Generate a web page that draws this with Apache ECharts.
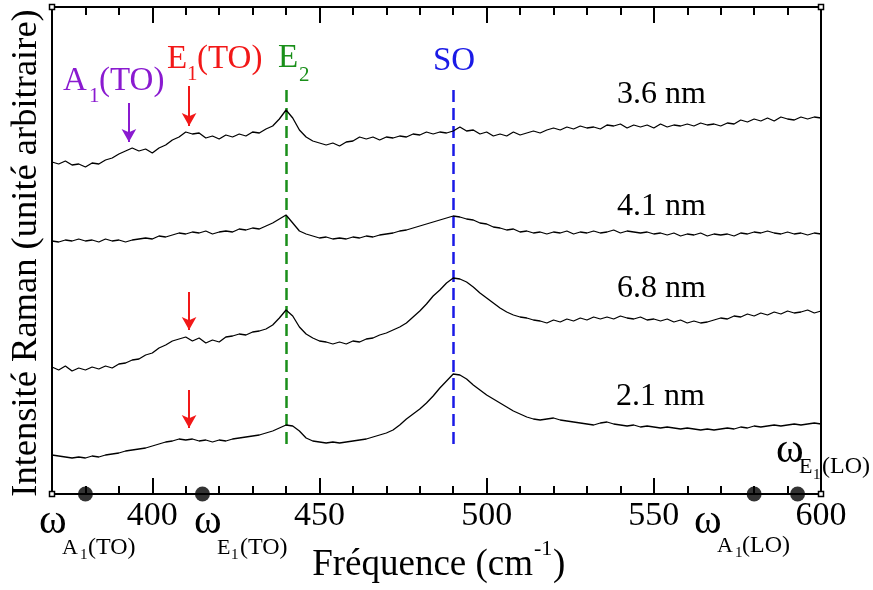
<!DOCTYPE html>
<html><head><meta charset="utf-8">
<script src="https://cdn.jsdelivr.net/npm/echarts@6/dist/echarts.min.js"></script>
<style>html,body{margin:0;padding:0;background:#fff}#c{width:873px;height:590px}</style>
</head><body><div id="c"></div>
<script>
// Raman shift (cm-1)
const freq = [
370,372,374,376,378,380,382,384,386,388,
390,392,394,396,398,400,402,404,406,408,
410,412,414,416,418,420,422,424,426,428,
430,432,434,436,438,440,442,444,446,448,
450,452,454,456,458,460,462,464,466,468,
470,472,474,476,478,480,482,484,486,488,
490,492,494,496,498,500,502,504,506,508,
510,512,514,516,518,520,522,524,526,528,
530,532,534,536,538,540,542,544,546,548,
550,552,554,556,558,560,562,564,566,568,
570,572,574,576,578,580,582,584,586,588,
590,592,594,596,598,600];
// intensities (arbitrary units, offset stacked)
const s36 = [
332,330,333,329,330,327,331,330,334,336,
340,343,346,343,345,341,346,349,354,357,
362,360,361,356,358,355,359,357,360,358,
362,361,365,368,375,384,376,364,357,353,
351,349,351,348,352,353,357,355,357,354,
357,356,358,357,360,359,362,360,362,361,
363,367,363,364,360,362,358,360,358,362,
359,361,363,361,364,366,364,367,365,368,
366,367,365,369,368,370,366,369,367,369,
366,370,367,369,368,370,368,371,369,370,
368,371,370,374,372,375,373,376,373,377,
375,374,377,375,377,376];
const s41 = [
253,252,254,253,255,253,254,252,255,253,
254,252,254,255,256,255,258,257,259,261,
260,262,261,263,260,262,263,262,265,264,
266,265,268,271,275,279,271,263,260,258,
256,257,255,256,255,257,256,258,257,259,
260,261,263,264,266,268,270,272,274,276,
278,277,275,274,271,270,267,266,264,265,
262,263,261,262,260,262,261,263,260,262,
261,263,261,262,264,261,263,262,261,262,
260,261,259,261,258,260,259,261,258,260,
259,260,258,261,260,262,261,263,261,260,
262,260,261,259,261,260];
const s68 = [
127,124,128,123,126,124,127,125,128,126,
130,131,134,135,139,141,146,149,153,155,
157,153,156,151,154,152,157,158,160,159,
162,163,165,169,176,184,178,167,160,156,
153,152,150,152,150,153,152,155,156,159,
161,164,167,171,177,183,190,198,204,211,
216,215,212,207,201,196,191,186,182,179,
177,176,174,173,171,174,172,175,173,176,
174,177,175,177,175,178,176,175,177,174,
175,173,175,172,174,171,173,171,172,174,
176,175,178,177,180,178,181,179,182,180,
183,181,182,184,181,183];
const s21 = [
39,38,37,36,37,36,38,37,39,40,
41,43,44,45,46,48,50,52,53,55,
54,55,53,54,52,54,53,55,56,57,
58,59,61,63,66,69,68,63,56,53,
52,51,52,51,52,53,54,55,57,59,
61,64,69,75,80,85,91,98,106,113,
120,119,115,109,104,99,95,91,87,83,
80,77,75,74,75,76,74,73,72,71,
70,69,71,72,70,69,68,69,67,68,
67,66,67,66,65,66,65,64,65,64,
65,66,65,67,66,68,67,68,69,68,
69,70,69,70,71,70];
const seriesNames = ['3.6 nm','4.1 nm','6.8 nm','2.1 nm'];
const tickLabels = [400,450,500,550,600];
const modeLines = [440, 490];            // E2, SO
const modeLineSpan = [404, 44];
const phononDots = [380, 415, 580, 593]; // wA1(TO), wE1(TO), wA1(LO), wE1(LO)
const purpleArrows = [[393, 391, 352]];
const redArrows = [[411, 408, 368], [411, 202, 164], [411, 104, 66]];

const FONT = 'Liberation Serif';
const PURPLE = '#8a1ad0', RED = '#f21818', GREEN = '#1a8f1a', BLUE = '#1a1ae6';

function T(text, x, y, size, color, align, extra) {
  return Object.assign({
    type: 'text', x: x, y: y, z: 100,
    style: { text: text, fontSize: size, fontFamily: FONT, fill: color || '#000',
      align: align || 'left', verticalAlign: 'middle',
      textAlign: align || 'left', textVerticalAlign: 'middle' }
  }, extra || {});
}
function mk(vals) { return freq.map((f, i) => [f, vals[i]]); }

const lineSeries = [s36, s41, s68, s21].map((vals, i) => ({
  type: 'line', name: seriesNames[i], data: mk(vals), showSymbol: false, symbol: 'none',
  lineStyle: { color: '#000', width: 1.3 }, silent: true, z: 5
}));

lineSeries[0].markLine = {
  silent: true, symbol: 'none', label: { show: false }, z: 3,
  data: [
    [{ coord: [modeLines[0], modeLineSpan[0]], lineStyle: { color: GREEN, type: [12, 6], width: 2.5 } },
     { coord: [modeLines[0], modeLineSpan[1]] }],
    [{ coord: [modeLines[1], modeLineSpan[0]], lineStyle: { color: BLUE, type: [12, 6], width: 2.5 } },
     { coord: [modeLines[1], modeLineSpan[1]] }]
  ]
};
lineSeries[1].markLine = {
  silent: true, symbol: ['none', 'arrow'], symbolSize: [11, 13], label: { show: false },
  data: purpleArrows.map(a => [{ coord: [a[0], a[1]], lineStyle: { color: PURPLE, width: 2, type: 'solid' }, itemStyle: { color: PURPLE } }, { coord: [a[0], a[2]] }])
    .concat(redArrows.map(a => [{ coord: [a[0], a[1]], lineStyle: { color: RED, width: 2, type: 'solid' }, itemStyle: { color: RED } }, { coord: [a[0], a[2]] }]))
};

const axisCommon = { type: 'value', min: 370, max: 600, splitLine: { show: false } };
const blk = { color: '#000', width: 2 };

const option = {
  animation: false,
  backgroundColor: '#fff',
  grid: { left: 52, right: 52, top: 7, bottom: 96, containLabel: false, outerBoundsMode: 'none' },
  xAxis: [
    Object.assign({}, axisCommon, { position: 'bottom', interval: 10,
      axisLine: { show: true, onZero: false, lineStyle: blk },
      axisTick: { show: true, inside: true, length: 8, lineStyle: blk },
      axisLabel: { show: false } }),
    Object.assign({}, axisCommon, { position: 'bottom',
      axisLine: { show: false, onZero: false },
      axisTick: { show: true, inside: true, length: 16, lineStyle: blk, customValues: tickLabels },
      axisLabel: { show: true, customValues: tickLabels, fontFamily: FONT, fontSize: 34, color: '#000', margin: 5 } }),
    Object.assign({}, axisCommon, { position: 'top', interval: 10,
      axisLine: { show: true, onZero: false, lineStyle: blk },
      axisTick: { show: true, inside: true, length: 8, lineStyle: blk },
      axisLabel: { show: false } }),
    Object.assign({}, axisCommon, { position: 'top',
      axisLine: { show: false, onZero: false },
      axisTick: { show: true, inside: true, length: 16, lineStyle: blk, customValues: tickLabels },
      axisLabel: { show: false } })
  ],
  yAxis: [
    { type: 'value', min: 0, max: 487, position: 'left', splitLine: { show: false },
      axisLine: { show: true, onZero: false, lineStyle: blk }, axisTick: { show: false }, axisLabel: { show: false } },
    { type: 'value', min: 0, max: 487, position: 'right', splitLine: { show: false },
      axisLine: { show: true, onZero: false, lineStyle: blk }, axisTick: { show: false }, axisLabel: { show: false } }
  ],
  series: lineSeries.concat([{
    type: 'scatter', data: phononDots.map(v => [v, 0]), symbolSize: 15, clip: false,
    itemStyle: { color: '#000' }, z: 20, silent: true
  }]),
  graphic: [
    T('Intensité Raman (unité arbitraire)', 26, 253, 36.5, '#000', 'center', { rotation: Math.PI / 2 }),
    T('Fréquence (cm', 533, 565, 37, '#000', 'right'),
    T('-1', 534, 549, 22, '#000', 'left'),
    T(')', 553, 565, 37, '#000', 'left'),
    // mode labels
    T('A', 63, 81, 33, PURPLE), T('1', 89, 96, 21, PURPLE), T('(TO)', 99, 81, 33, PURPLE),
    T('E', 167, 59, 33, RED), T('1', 187, 74, 21, RED), T('(TO)', 197, 59, 33, RED),
    T('E', 278, 58, 33, GREEN), T('2', 299, 75, 21, GREEN),
    T('SO', 454, 61, 33, BLUE, 'center'),
    // size labels
    T(seriesNames[0], 617, 95, 32), T(seriesNames[1], 617, 207, 32),
    T(seriesNames[2], 617, 289, 32), T(seriesNames[3], 616, 397, 32),
    // omega labels
    T('ω', 39, 522, 42), T('A', 62, 548, 22), T('1', 80, 555, 15), T('(TO)', 88, 548, 24),
    T('ω', 194, 522, 42), T('E', 217, 548, 22), T('1', 231, 555, 15), T('(TO)', 240, 548, 24),
    T('ω', 694, 522, 42), T('A', 717, 546, 22), T('1', 735, 553, 15), T('(LO)', 742, 546, 24),
    T('ω', 776, 451, 42), T('E', 799, 467, 22), T('1', 813, 475, 15), T('(LO)', 822, 467, 24),
    // corner squares
    { type: 'rect', shape: { x: 49.5, y: 4.5, width: 5, height: 5 }, style: { fill: '#fff', stroke: '#000', lineWidth: 1.5 }, z: 100 },
    { type: 'rect', shape: { x: 818.5, y: 4.5, width: 5, height: 5 }, style: { fill: '#fff', stroke: '#000', lineWidth: 1.5 }, z: 100 },
    { type: 'rect', shape: { x: 49.5, y: 491.5, width: 5, height: 5 }, style: { fill: '#fff', stroke: '#000', lineWidth: 1.5 }, z: 100 },
    { type: 'rect', shape: { x: 818.5, y: 491.5, width: 5, height: 5 }, style: { fill: '#fff', stroke: '#000', lineWidth: 1.5 }, z: 100 }
  ]
};
const chart = echarts.init(document.getElementById('c'), null, { renderer: 'canvas' });
chart.setOption(option);
</script>
</body></html>
